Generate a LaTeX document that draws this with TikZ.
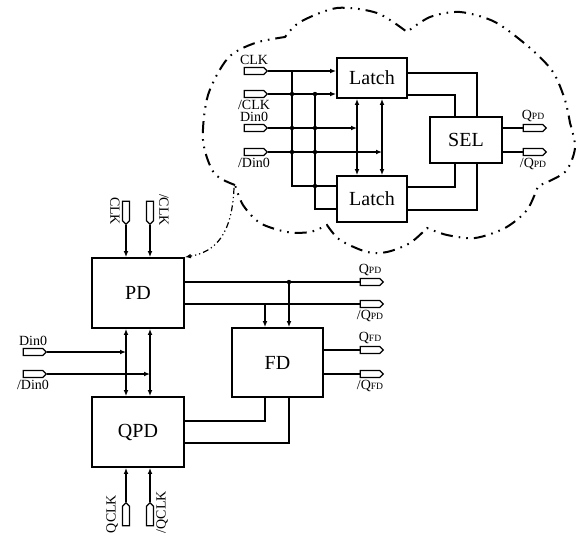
\documentclass[tikz,border=0pt]{standalone}
\usepackage{fontspec}
\setmainfont{Liberation Serif}
\usepackage{tikz}
\usetikzlibrary{shapes.symbols, arrows.meta, positioning}
\newcommand{\qsub}[1]{{\fontsize{4.8}{4.8}\selectfont #1}}
\tikzstyle{block}  = [rectangle, draw=black, line width=0.9pt, minimum width=46pt, minimum height=35pt,
    text centered, font=\fontsize{10}{10}\selectfont]
\tikzstyle{pin}    = [signal, signal to=east, draw=black, line width=0.6pt, minimum width=11.5pt,
    minimum height=3.5pt, inner sep=0pt]
\tikzstyle{lbl}    = [inner sep=0.4pt, font=\fontsize{7}{7}\selectfont]
\tikzstyle{wire}   = [line width=0.75pt]
\tikzstyle{arrow}  = [wire, -{Latex[length=3pt,width=2.4pt]}]
\tikzstyle{darrow} = [wire, {Latex[length=3pt,width=2.4pt]}-{Latex[length=3pt,width=2.4pt]}]
\tikzstyle{cloud}  = [line width=1pt, dash pattern=on 6pt off 3pt on 0.8pt off 3pt on 0.8pt off 3pt]
\tikzstyle{hint}   = [line width=0.6pt, dash pattern=on 3pt off 1.5pt on 0.6pt off 1.5pt on 0.6pt off 1.5pt,
    -{Latex[length=3pt,width=2.4pt]}]

\begin{document}
\begin{tikzpicture}[x=0.5pt, y=-0.5pt, node distance=0.4pt]
    \useasboundingbox (0,0) rectangle (576,537);

    % zoomed view of PD
    \node (latcha) [block, minimum width=35pt, minimum height=20pt] at (372,78)  {Latch};
    \node (latchb) [block, minimum width=35pt, minimum height=23pt] at (372,199) {Latch};
    \node (sel)    [block, minimum width=36pt, minimum height=23pt] at (466,140) {SEL};

    \node (iclk)  [pin] at (254,71)  {};
    \node (inclk) [pin] at (254,94)  {};
    \node (idin)  [pin] at (254,128) {};
    \node (indin) [pin] at (254,152) {};
    \node (oq)    [pin] at (533,128) {};
    \node (onq)   [pin] at (533,152) {};

    \node (tclk)  [lbl, above=of iclk]  {CLK};
    \node (tnclk) [lbl, below=of inclk] {/CLK};
    \node (tdin)  [lbl, above=of idin]  {Din0};
    \node (tndin) [lbl, below=of indin] {/Din0};
    \node (tq)    [lbl, above=of oq]    {Q\qsub{PD}};
    \node (tnq)   [lbl, below=of onq]   {/Q\qsub{PD}};

    \coordinate (va) at (292,0);
    \coordinate (vb) at (315,0);
    \coordinate (ua) at (357,0);
    \coordinate (ub) at (382,0);
    \coordinate (sa) at (455,0);
    \coordinate (sb) at (477,0);
    \coordinate (hb1) at (0,186);
    \coordinate (hb2) at (0,209);
    \coordinate (ya1) at (0,73);
    \coordinate (ya2) at (0,95);
    \coordinate (yb1) at (0,187);
    \coordinate (yb2) at (0,210);

    \draw [arrow] (iclk.east)  -- (iclk.east -| latcha.west);
    \draw [arrow] (inclk.east) -- (inclk.east -| latcha.west);
    \draw [wire]  (iclk.east -| va)  -- (va |- hb1) -- (hb1 -| latchb.west);
    \draw [wire]  (inclk.east -| vb) -- (vb |- hb2) -- (hb2 -| latchb.west);
    \draw [arrow] (idin.east)  -- (idin.east -| ua);
    \draw [arrow] (indin.east) -- (indin.east -| ub);
    \draw [darrow] (latcha.south -| ua) -- (latchb.north -| ua);
    \draw [darrow] (latcha.south -| ub) -- (latchb.north -| ub);

    \draw [wire] (latcha.east |- ya1) -| (sel.north -| sb);
    \draw [wire] (latcha.east |- ya2) -| (sel.north -| sa);
    \draw [wire] (latchb.east |- yb1) -| (sel.south -| sa);
    \draw [wire] (latchb.east |- yb2) -| (sel.south -| sb);
    \draw [wire] (sel.east |- oq.west)  -- (oq.west);
    \draw [wire] (sel.east |- onq.west) -- (onq.west);

    \fill (va |- inclk.east) circle (1.1pt);
    \fill (va |- idin.east)  circle (1.1pt);
    \fill (va |- indin.east) circle (1.1pt);
    \fill (vb |- inclk.east) circle (1.1pt);
    \fill (vb |- idin.east)  circle (1.1pt);
    \fill (vb |- indin.east) circle (1.1pt);
    \fill (vb |- hb1)        circle (1.1pt);

    % cloud outline
    \draw [cloud]
        plot [smooth] coordinates {(235,185) (214,173) (203,140) (208,95) (228,58) (255,43) (285,37)}
     -- plot [smooth] coordinates {(285,37) (300,22) (337,8) (377,13) (407,32)}
     -- plot [smooth] coordinates {(407,32) (430,17) (460,12) (495,22) (530,48) (553,72) (565,100) (570,123)}
     -- plot [smooth] coordinates {(570,123) (575,148) (565,172) (538,186)}
     -- plot [smooth] coordinates {(538,186) (527,210) (505,228) (475,238) (447,235) (427,228)}
     -- plot [smooth] coordinates {(427,228) (410,243) (387,252) (367,252) (340,240) (327,225)}
     -- plot [smooth] coordinates {(327,225) (310,232) (287,232) (260,223) (243,205) (235,185)};
    \coordinate (cloudtip) at (234,188);

    % main circuit
    \node (pd)  [block] at (138,293) {PD};
    \node (qpd) [block] at (138,432) {QPD};
    \node (fd)  [block, minimum width=45.5pt, minimum height=34.5pt] at (277.5,362.5) {FD};

    \node (pclka) [pin, rotate=-90] at (126,211) {};
    \node (pclkb) [pin, rotate=-90] at (150,211) {};
    \node (qclka) [pin, rotate=90]  at (126,516) {};
    \node (qclkb) [pin, rotate=90]  at (150,516) {};
    \node (pdin)  [pin] at (33,352) {};
    \node (pndin) [pin] at (33,374) {};
    \node (oqpd)  [pin] at (370,282) {};
    \node (onqpd) [pin] at (370,304) {};
    \node (oqfd)  [pin] at (370,350) {};
    \node (onqfd) [pin] at (370,374) {};

    \node (lclka) [lbl, rotate=-90] at (115,211) {CLK};
    \node (lclkb) [lbl, rotate=-90] at (164,210) {/CLK};
    \node (lqclka) [lbl, rotate=90] at (112,514) {QCLK};
    \node (lqclkb) [lbl, rotate=90] at (162,512) {/QCLK};
    \node (ldin)  [lbl, above=of pdin]  {Din0};
    \node (lndin) [lbl, below=of pndin] {/Din0};
    \node (lqpd)  [lbl, above=of oqpd]  {Q\qsub{PD}};
    \node (lnqpd) [lbl, below=of onqpd] {/Q\qsub{PD}};
    \node (lqfd)  [lbl, above=of oqfd]  {Q\qsub{FD}};
    \node (lnqfd) [lbl, below=of onqfd] {/Q\qsub{FD}};

    \coordinate (fa) at (265,0);
    \coordinate (fb) at (289,0);
    \coordinate (yq1) at (0,421);
    \coordinate (yq2) at (0,443);

    \draw [arrow] (pclka.east) -- (pclka.east |- pd.north);
    \draw [arrow] (pclkb.east) -- (pclkb.east |- pd.north);
    \draw [darrow] (pd.south -| pclka.east) -- (qpd.north -| pclka.east);
    \draw [darrow] (pd.south -| pclkb.east) -- (qpd.north -| pclkb.east);
    \draw [arrow] (pdin.east)  -- (pdin.east -| pclka.east);
    \draw [arrow] (pndin.east) -- (pndin.east -| pclkb.east);
    \draw [arrow] (qclka.east) -- (qclka.east |- qpd.south);
    \draw [arrow] (qclkb.east) -- (qclkb.east |- qpd.south);

    \draw [wire]  (pd.east |- oqpd.west)  -- (oqpd.west);
    \draw [wire]  (pd.east |- onqpd.west) -- (onqpd.west);
    \draw [arrow] (fb |- oqpd.west)  -- (fb |- fd.north);
    \draw [arrow] (fa |- onqpd.west) -- (fa |- fd.north);
    \fill (fb |- oqpd.west) circle (1.1pt);
    \draw [wire]  (fd.east |- oqfd.west)  -- (oqfd.west);
    \draw [wire]  (fd.east |- onqfd.west) -- (onqfd.west);
    \draw [wire]  (qpd.east |- yq1) -| (fd.south -| fa);
    \draw [wire]  (qpd.east |- yq2) -| (fd.south -| fb);

    \draw [hint] (cloudtip) .. controls (232,235) and (215,252) .. (pd.north east);
\end{tikzpicture}
\end{document}
